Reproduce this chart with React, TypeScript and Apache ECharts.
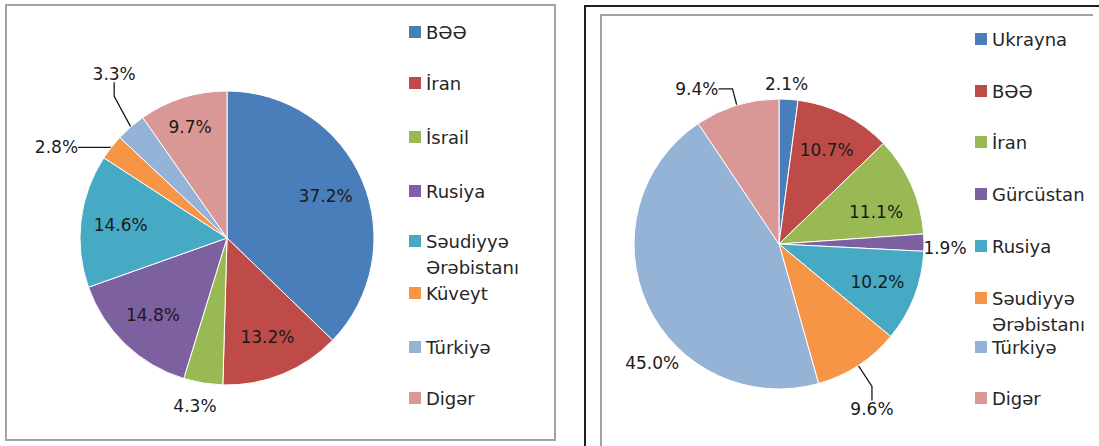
import React, { useEffect, useRef } from 'react';
import * as echarts from 'echarts';

// ---- data ----
const leftNames = ['BƏƏ', 'İran', 'İsrail', 'Rusiya', 'Səudiyyə Ərəbistanı', 'Küveyt', 'Türkiyə', 'Digər'];
const leftValues = [37.2, 13.2, 4.3, 14.8, 14.6, 2.8, 3.3, 9.7];

const rightNames = ['Ukrayna', 'BƏƏ', 'İran', 'Gürcüstan', 'Rusiya', 'Səudiyyə Ərəbistanı', 'Türkiyə', 'Digər'];
const rightValues = [2.1, 10.7, 11.1, 1.9, 10.2, 9.6, 45.0, 9.4];

const palette = ['#4A7EBB', '#BE4B48', '#98B954', '#7D60A0', '#46AAC5', '#F69546', '#95B3D7', '#D99795'];

// ---- layout ----
const FONT = 'DejaVu Sans';
const pieCenters = [[227, 238], [779, 244]];
const pieRadii = [147, 145];
// explicit label placements: [angle clockwise from top (deg), distance in radii]
const labelPlacement: Record<number, [number, number]>[] = [
  { 2: [190.8, 1.164], 5: [298, 1.314], 6: [325.5, 1.355], 7: [341.6, 0.796] },
  { 0: [2.7, 1.105], 2: [71.7, 0.705], 3: [91.4, 1.145], 5: [150.6, 1.306], 6: [226.8, 1.2], 7: [332.1, 1.21] },
];
const outsideItems: number[][] = [[2, 5, 6], [0, 3, 5, 6, 7]];
const leaderLines: number[][] = [[5, 6], [5, 7]];
const insideLabelScale = 1.4;

const legendX = [409, 975];
const legendY = [
  [32, 83, 137, 191, 241, 293, 347, 398],
  [39, 91, 142, 194, 246, 298, 347, 398],
];

function pct(v: number) {
  return v.toFixed(1) + '%';
}

function buildData(names: string[], values: number[], side: number) {
  return names.map((name, i) => {
    const outside = outsideItems[side].includes(i);
    const line = leaderLines[side].includes(i);
    return {
      name,
      value: values[i],
      itemStyle: { color: palette[i] },
      label: { position: outside ? 'outside' : 'inside' },
      labelLine: { show: line, length: 8, length2: 14 },
    };
  });
}

function buildLegends(names: string[], side: number) {
  return names.map((name, i) => {
    const twoLine = name.includes(' ');
    return {
      data: [{ name, itemStyle: { color: palette[i], borderWidth: 0 } }],
      left: legendX[side],
      top: twoLine ? legendY[side][i] - 39 : legendY[side][i] - 10,
      padding: 0,
      itemWidth: 12,
      itemHeight: 12,
      icon: 'rect',
      selectedMode: false,
      formatter: (n: string) => (n.includes(' ') ? '\n' + n.replace(' ', '\n') : n),
      textStyle: twoLine
        ? { fontFamily: FONT, fontSize: 18, color: '#262626', lineHeight: 26 }
        : { fontFamily: FONT, fontSize: 18, color: '#262626', lineHeight: 20 },
    };
  });
}

export default function App() {
  const ref = useRef<HTMLDivElement>(null);
  useEffect(() => {
    document.body.style.margin = '0';
    const chart = echarts.init(ref.current!, null, { renderer: 'svg' });
    const labelLayout = (p: any) => {
      const s = p.seriesIndex;
      const [cx, cy] = pieCenters[s];
      const r = pieRadii[s];
      const place = labelPlacement[s][p.dataIndex];
      if (place) {
        const a = (place[0] * Math.PI) / 180;
        return {
          x: cx + Math.sin(a) * place[1] * r,
          y: cy - Math.cos(a) * place[1] * r,
          align: 'center',
          verticalAlign: 'middle',
        };
      }
      const lx = p.labelRect.x + p.labelRect.width / 2;
      const ly = p.labelRect.y + p.labelRect.height / 2;
      return {
        x: cx + (lx - cx) * insideLabelScale,
        y: cy + (ly - cy) * insideLabelScale,
        align: 'center',
        verticalAlign: 'middle',
      };
    };
    const pieBase = (side: number, names: string[], values: number[]) => ({
      type: 'pie',
      center: pieCenters[side],
      radius: pieRadii[side],
      startAngle: 90,
      clockwise: true,
      avoidLabelOverlap: false,
      silent: true,
      itemStyle: { borderColor: '#ffffff', borderWidth: 1 },
      label: {
        show: true,
        formatter: (p: any) => pct(p.value),
        fontFamily: FONT,
        fontSize: 17,
        color: '#1a1a1a',
      },
      labelLine: { show: false, lineStyle: { color: '#1a1a1a', width: 1.3 } },
      labelLayout,
      data: buildData(names, values, side),
    });
    chart.setOption({
      animation: false,
      backgroundColor: '#ffffff',
      legend: [...buildLegends(leftNames, 0), ...buildLegends(rightNames, 1)],
      graphic: [
        {
          type: 'rect',
          shape: { x: 6, y: 5, width: 549, height: 435 },
          style: { fill: 'none', stroke: '#A3A3A3', lineWidth: 2 },
        },
        {
          type: 'polyline',
          shape: { points: [[585, 446], [585, 6], [1099, 6]] },
          style: { fill: 'none', stroke: '#1f1f1f', lineWidth: 2 },
        },
        {
          type: 'polyline',
          shape: { points: [[601, 446], [601, 15], [1093, 15]] },
          style: { fill: 'none', stroke: '#A3A3A3', lineWidth: 2 },
        },
      ],
      series: [pieBase(0, leftNames, leftValues), pieBase(1, rightNames, rightValues)],
    });
    return () => chart.dispose();
  }, []);
  return <div ref={ref} style={{ position: 'absolute', left: 0, top: 0, width: 1099, height: 446 }} />;
}
